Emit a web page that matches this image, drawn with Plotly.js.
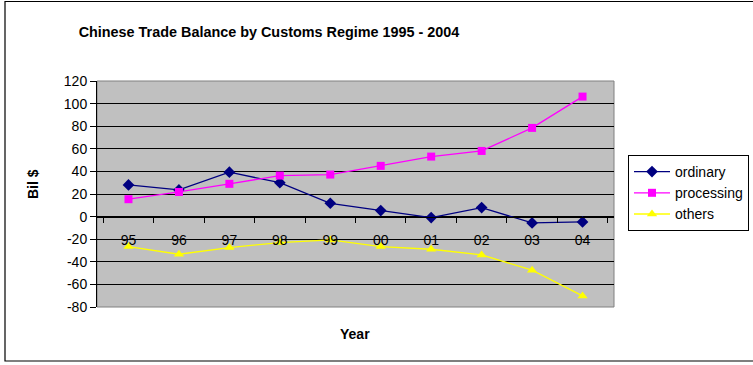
<!DOCTYPE html>
<html><head><meta charset="utf-8">
<script src="https://cdn.plot.ly/plotly-3.0.1.min.js"></script>
<style>html,body{margin:0;padding:0;background:#fff}#c{width:753px;height:365px}</style>
</head><body><div id="c"></div>
<script>
const years = ["95","96","97","98","99","00","01","02","03","04"];
const ordinary = [28, 23.6, 39.3, 30, 11.8, 5.3, -0.9, 8, -5.6, -4.7];
const processing = [15.4, 21.8, 29, 36.3, 37.2, 44.9, 53.1, 58.1, 78.5, 106.2];
const others = [-26.5, -33.3, -27.4, -23, -20.6, -26.5, -28.9, -33.9, -47.4, -70.2];
const yTicks = [-80,-60,-40,-20,0,20,40,60,80,100,120];

const W = 753, H = 365;
const m = {l:97, r:139, t:81, b:58, autoexpand: false};
const pw = W - m.l - m.r, ph = H - m.t - m.b;
const px = x => (x - m.l) / pw;
const py = y => (H - m.b - y) / ph;
const yMin = -80, yMax = 120;
const zeroFrac = (0 - yMin) / (yMax - yMin);

const font = {family: "Liberation Sans, Arial, sans-serif", color: "#000"};

const traces = [
  {x: years, y: ordinary, name: "ordinary", type: "scatter", mode: "lines+markers",
   line: {color: "#000080", width: 1.3}, marker: {symbol: "diamond", size: 9, color: "#000080"}},
  {x: years, y: processing, name: "processing", type: "scatter", mode: "lines+markers",
   line: {color: "#ff00ff", width: 1.3}, marker: {symbol: "square", size: 8, color: "#ff00ff"}},
  {x: years, y: others, name: "others", type: "scatter", mode: "lines+markers",
   line: {color: "#ffff00", width: 1.3}, marker: {symbol: "triangle-up", size: 9, color: "#ffff00"}}
];

const layout = {
  width: W, height: H,
  margin: m,
  paper_bgcolor: "#fff",
  plot_bgcolor: "#c0c0c0",
  font: Object.assign({size: 13}, font),
  showlegend: true,
  title: {text: "<b>Chinese Trade Balance by Customs Regime 1995 - 2004</b>",
          font: Object.assign({size: 14.4}, font),
          x: 269 / W, xanchor: "center", xref: "container",
          y: 1 - 32 / H, yanchor: "middle", yref: "container"},
  xaxis: {
    type: "category",
    anchor: "free",
    position: zeroFrac,
    showline: true, linecolor: "#000", linewidth: 1,
    showgrid: false, zeroline: false,
    ticks: "outside", tickson: "boundaries", ticklen: 5, tickcolor: "#000",
    ticklabelstandoff: 11,
    tickfont: Object.assign({size: 14}, font),
    fixedrange: true
  },
  yaxis: {
    range: [yMin, yMax],
    tickvals: yTicks,
    ticktext: yTicks.map(String),
    showline: true, linecolor: "#000", linewidth: 1,
    ticks: "outside", ticklen: 6, tickcolor: "#000",
    showgrid: true, gridcolor: "#000", gridwidth: 1,
    zeroline: true, zerolinecolor: "#000", zerolinewidth: 1,
    tickfont: Object.assign({size: 14}, font),
    fixedrange: true
  },
  legend: {
    x: px(628), xanchor: "left", y: py(155), yanchor: "top",
    bgcolor: "#fff", bordercolor: "#000", borderwidth: 1,
    font: Object.assign({size: 14}, font),
    itemwidth: 36, tracegroupgap: 0
  },
  annotations: [
    {text: "<b>Year</b>", xref: "paper", yref: "paper", x: px(355), y: py(334),
     xanchor: "center", yanchor: "middle", showarrow: false, font: Object.assign({size: 14}, font)},
    {text: "<b>Bil $</b>", xref: "paper", yref: "paper", x: px(33), y: py(184),
     xanchor: "center", yanchor: "middle", textangle: -90, showarrow: false,
     font: Object.assign({size: 14}, font)}
  ],
  shapes: [
    {type: "rect", xref: "paper", yref: "paper", x0: 0, x1: 1, y0: 0, y1: 1,
     line: {color: "#808080", width: 1}, layer: "below"},
    {type: "rect", xref: "paper", yref: "paper", x0: px(5), x1: px(760), y0: py(361), y1: py(1.5),
     line: {color: "#000", width: 1.2}, fillcolor: "rgba(0,0,0,0)"}
  ]
};

Plotly.newPlot("c", traces, layout, {displayModeBar: false, staticPlot: true});
</script>
</body></html>
